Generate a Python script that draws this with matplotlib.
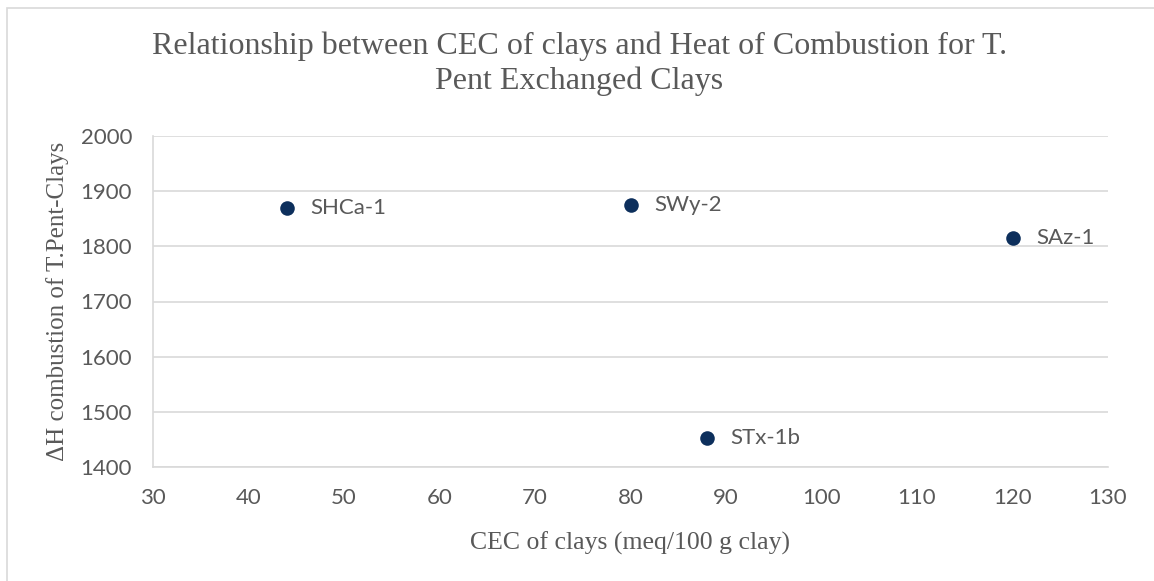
import matplotlib
matplotlib.use("Agg")
import matplotlib.pyplot as plt
from matplotlib.patches import Rectangle

# data
clays = ["SHCa-1", "SWy-2", "SAz-1", "STx-1b"]
cec = [44, 80, 120, 88]
heat = [1870, 1875, 1815, 1452]

x_ticks = [30, 40, 50, 60, 70, 80, 90, 100, 110, 120, 130]
y_ticks = [1400, 1500, 1600, 1700, 1800, 1900, 2000]

title = "Relationship between CEC of clays and Heat of Combustion for T.\nPent Exchanged Clays"
x_label = "CEC of clays (meq/100 g clay)"
y_label = "\u0394H combustion of T.Pent-Clays"

text_gray = "#595959"
grid_gray = "#d9d9d9"
marker_blue = "#0d2f5c"
serif = ["Liberation Serif", "DejaVu Serif"]
sans = ["Lato", "DejaVu Sans"]

fig = plt.figure(figsize=(11.54, 5.81), dpi=100)
fig.patches.append(Rectangle((7 / 1154, -0.1), 1.2, 1 - 8 / 581 + 0.1,
                             transform=fig.transFigure, fill=False,
                             edgecolor="#d9d9d9", linewidth=1.2))

ax = fig.add_axes([153 / 1154, 1 - 467 / 581, (1108 - 153) / 1154, (467 - 136) / 581])
ax.scatter(cec, heat, s=110, color=marker_blue, zorder=3, linewidths=0)
for name, x, y in zip(clays, cec, heat):
    ax.annotate(name, (x, y), xytext=(17, 0), textcoords="offset points",
                va="center", ha="left", fontsize=16, color=text_gray, family=sans)

ax.set_xlim(30, 130)
ax.set_ylim(1400, 2000)
ax.set_xticks(x_ticks)
ax.set_yticks(y_ticks)
ax.grid(axis="y", color=grid_gray, linewidth=1.2)
ax.set_axisbelow(True)
for side in ["top", "right"]:
    ax.spines[side].set_visible(False)
for side in ["left", "bottom"]:
    ax.spines[side].set_color(grid_gray)
    ax.spines[side].set_linewidth(1.2)
ax.tick_params(length=0, labelsize=16, labelcolor=text_gray)
ax.tick_params(axis="x", pad=15)
ax.tick_params(axis="y", pad=15)
for lbl in ax.get_xticklabels() + ax.get_yticklabels():
    lbl.set_family(sans)

ax.set_xlabel(x_label, fontsize=18.5, color=text_gray, family=serif, labelpad=17)
ax.set_ylabel(y_label, fontsize=18, color=text_gray, family=serif, labelpad=8)
fig.text(0.502, 1 - 63.5 / 581, title, ha="center", va="center", fontsize=23,
         color=text_gray, family=serif, linespacing=1.25)

fig.savefig("out.png", dpi=100)
